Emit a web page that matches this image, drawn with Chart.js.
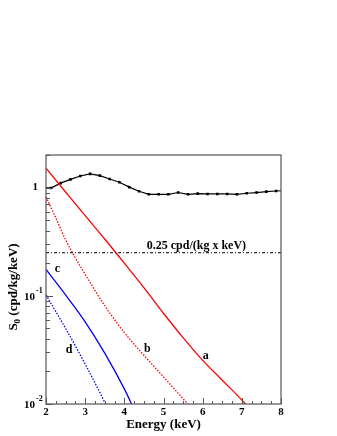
<!DOCTYPE html>
<html>
<head>
<meta charset="utf-8">
<script src="https://cdn.jsdelivr.net/npm/chart.js@4"></script>
<style>
  html, body { margin: 0; padding: 0; background: #fff; }
  canvas { display: block; }
</style>
</head>
<body>
<canvas id="chart" width="337" height="436"></canvas>
<script>
// measured rate (black points), bin centres in keV; edges only carry the line
const measuredE = [2.0, 2.125, 2.375, 2.625, 2.875, 3.125, 3.375, 3.625, 3.875, 4.125, 4.375, 4.625, 4.875,
  5.125, 5.375, 5.625, 5.875, 6.125, 6.375, 6.625, 6.875, 7.125, 7.375, 7.625, 7.875, 8.0];
const measuredRate = [1.00, 0.99, 1.10, 1.19, 1.28, 1.34, 1.29, 1.20, 1.12, 1.01, 0.925, 0.867, 0.867,
  0.867, 0.90, 0.867, 0.88, 0.873, 0.873, 0.873, 0.867, 0.886, 0.90, 0.918, 0.93, 0.935];

// expected spectra a, b (red) and c, d (blue)
const aE = [2.0, 2.5, 3.0, 3.5, 4.0, 4.5, 5.0, 5.5, 6.0, 6.5, 7.0, 7.3];
const aRate = [1.51, 0.91, 0.55, 0.335, 0.20, 0.119, 0.069, 0.041, 0.0253, 0.0166, 0.0109, 0.0083];
const bE = [2.0, 2.25, 2.5, 2.75, 3.0, 3.5, 4.0, 4.5, 5.0, 5.5, 5.7];
const bRate = [0.82, 0.525, 0.33, 0.224, 0.158, 0.081, 0.0457, 0.0282, 0.0178, 0.0112, 0.0093];
const cE = [2.0, 2.5, 3.0, 3.5, 4.0, 4.25];
const cRate = [0.175, 0.102, 0.0575, 0.0295, 0.0138, 0.0089];
const dE = [2.0, 2.5, 3.0, 3.5, 3.6];
const dRate = [0.102, 0.050, 0.0234, 0.0104, 0.0088];

// reference level
const refLevel = 0.25;
const refText = '0.25 cpd/(kg x keV)';

// axes
const xMin = 2, xMax = 8;
const yMin = 0.01, yMax = 2.0;
const xTickLabels = ['2', '3', '4', '5', '6', '7', '8'];
const yTickValues = [1, 0.1, 0.01];
const yTickBase = ['1', '10', '10'];
const yTickExp = ['', '-1', '-2'];

// curve names, anchored in data coordinates
const curveNames = ['a', 'b', 'c', 'd'];
const nameE = [6.08, 4.59, 2.29, 2.59];
const nameRate = [0.028, 0.0325, 0.178, 0.0318];

const pts = (xs, ys) => xs.map((x, i) => ({ x: x, y: ys[i] }));
const serif = '"Liberation Serif", "DejaVu Serif", serif';

const framePlugin = {
  id: 'frame',
  afterDatasetsDraw(chart) {
    const ctx = chart.ctx;
    const a = chart.chartArea;
    const xs = chart.scales.x, ys = chart.scales.y;
    ctx.save();
    ctx.strokeStyle = '#555';
    ctx.lineWidth = 1.2;
    ctx.strokeRect(a.left, a.top, a.right - a.left, a.bottom - a.top);

    // x ticks, every 0.25 keV, pointing inside
    ctx.lineWidth = 1;
    ctx.beginPath();
    for (let v = xMin; v <= xMax + 1e-9; v += 0.25) {
      const px = Math.round(xs.getPixelForValue(v)) + 0.5;
      const len = Math.abs(v - Math.round(v)) < 1e-6 ? 6 : 3;
      ctx.moveTo(px, a.bottom);
      ctx.lineTo(px, a.bottom - len);
    }
    // y ticks, log decades
    for (let dec = -2; dec <= 0; dec++) {
      for (let m = 1; m <= 9; m++) {
        const v = m * Math.pow(10, dec);
        if (v < yMin || v > yMax) continue;
        const py = Math.round(ys.getPixelForValue(v)) + 0.5;
        ctx.moveTo(a.left, py);
        ctx.lineTo(a.left + (m === 1 ? 7 : 4), py);
      }
    }
    ctx.stroke();

    ctx.fillStyle = '#000';
    ctx.font = 'bold 11px ' + serif;
    ctx.textAlign = 'center';
    ctx.textBaseline = 'middle';
    xTickLabels.forEach(t => {
      ctx.fillText(t, xs.getPixelForValue(Number(t)), a.bottom + 8);
    });

    yTickValues.forEach((v, i) => {
      const py = ys.getPixelForValue(v);
      ctx.font = 'bold 11px ' + serif;
      if (yTickExp[i] === '') {
        ctx.textAlign = 'right';
        ctx.fillText(yTickBase[i], 38, py);
      } else {
        ctx.textAlign = 'right';
        ctx.fillText(yTickBase[i], 35, py + 1);
        ctx.font = 'bold 8px ' + serif;
        ctx.textAlign = 'left';
        ctx.fillText(yTickExp[i], 36, py - 5);
      }
    });

    // axis titles
    ctx.font = 'bold 13px ' + serif;
    ctx.textAlign = 'center';
    ctx.fillText('Energy (keV)', (a.left + a.right) / 2, 425);

    ctx.save();
    ctx.translate(14, 287);
    ctx.rotate(-Math.PI / 2);
    const rest = ' (cpd/kg/keV)';
    ctx.font = 'bold 13px ' + serif;
    const wS = ctx.measureText('S').width;
    const wR = ctx.measureText(rest).width;
    ctx.font = 'bold 9px ' + serif;
    const w0 = ctx.measureText('0').width;
    const x0 = -(wS + w0 + wR) / 2;
    ctx.textAlign = 'left';
    ctx.font = 'bold 13px ' + serif;
    ctx.fillText('S', x0, 0);
    ctx.font = 'bold 9px ' + serif;
    ctx.fillText('0', x0 + wS, 4);
    ctx.font = 'bold 13px ' + serif;
    ctx.fillText(rest, x0 + wS + w0, 0);
    ctx.restore();

    // reference line text and curve names
    ctx.font = 'bold 12px ' + serif;
    ctx.textAlign = 'center';
    ctx.fillText(refText, xs.getPixelForValue(5.84), ys.getPixelForValue(refLevel) - 7);
    curveNames.forEach((n, i) => {
      ctx.fillText(n, xs.getPixelForValue(nameE[i]), ys.getPixelForValue(nameRate[i]));
    });
    ctx.restore();
  }
};

new Chart(document.getElementById('chart'), {
  type: 'line',
  data: {
    datasets: [
      {
        label: 'ref',
        data: pts([xMin, xMax], [refLevel, refLevel]),
        borderColor: '#000', borderWidth: 1, borderDash: [3, 2, 1, 2],
        pointRadius: 0
      },
      {
        label: 'a',
        data: pts(aE, aRate),
        borderColor: '#ff0000', borderWidth: 1.3,
        cubicInterpolationMode: 'monotone', pointRadius: 0
      },
      {
        label: 'b',
        data: pts(bE, bRate),
        borderColor: '#ff0000', borderWidth: 1.3, borderDash: [1.5, 1.5],
        cubicInterpolationMode: 'monotone', pointRadius: 0
      },
      {
        label: 'c',
        data: pts(cE, cRate),
        borderColor: '#0000ff', borderWidth: 1.3,
        cubicInterpolationMode: 'monotone', pointRadius: 0
      },
      {
        label: 'd',
        data: pts(dE, dRate),
        borderColor: '#0000ff', borderWidth: 1.3, borderDash: [1.5, 1.5],
        cubicInterpolationMode: 'monotone', pointRadius: 0
      },
      {
        label: 'measured',
        data: pts(measuredE, measuredRate),
        borderColor: '#000', backgroundColor: '#000', borderWidth: 1.2,
        pointStyle: 'rect',
        pointRadius: measuredE.map((e, i) => (i === 0 || i === measuredE.length - 1) ? 0 : 1),
        tension: 0
      }
    ]
  },
  options: {
    responsive: false,
    animation: false,
    layout: { padding: { left: 46, top: 155, right: 56, bottom: 32 } },
    plugins: { legend: { display: false }, tooltip: { enabled: false } },
    scales: {
      x: { type: 'linear', min: xMin, max: xMax, display: false },
      y: { type: 'logarithmic', min: yMin, max: yMax, display: false }
    }
  },
  plugins: [framePlugin]
});
</script>
</body>
</html>
